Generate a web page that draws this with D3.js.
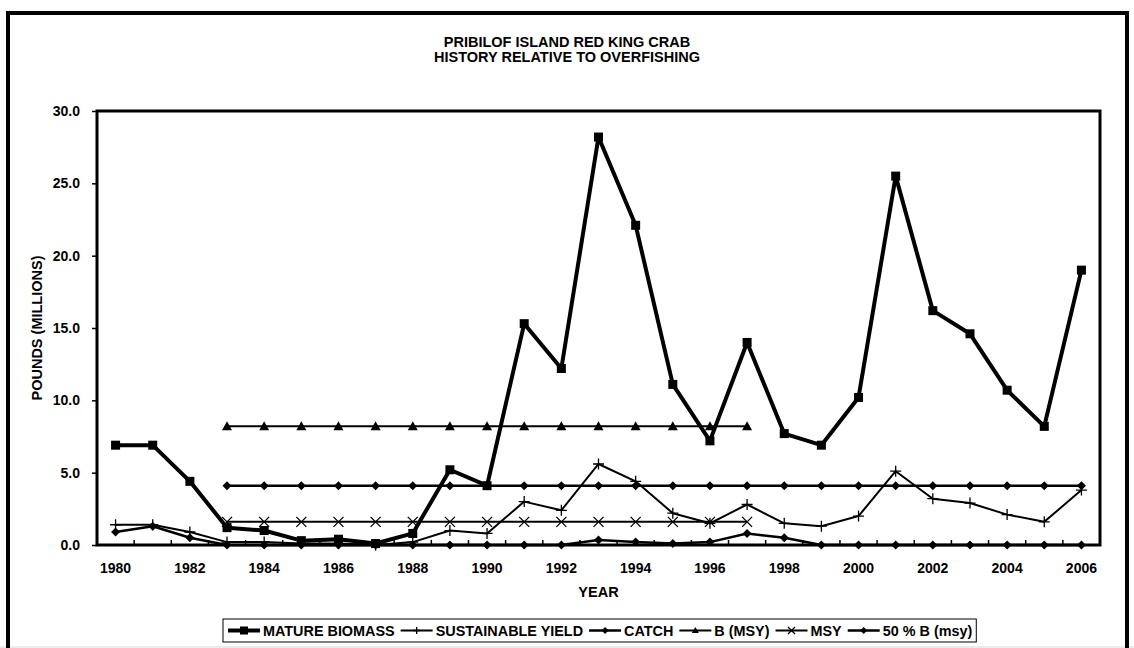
<!DOCTYPE html>
<html>
<head>
<meta charset="utf-8">
<script src="https://cdn.jsdelivr.net/npm/d3@7"></script>
<style>
  body { margin: 0; background: #fff; }
  text { font-family: Arial, "Liberation Sans", sans-serif; font-weight: bold; fill: #000; }
</style>
</head>
<body>
<div id="chart"></div>
<script>
// categories and series (millions of pounds)
const years = [1980, 1981, 1982, 1983, 1984, 1985, 1986, 1987, 1988, 1989, 1990, 1991, 1992, 1993,
    1994, 1995, 1996, 1997, 1998, 1999, 2000, 2001, 2002, 2003, 2004, 2005, 2006];
const yearLabels = [1980, 1982, 1984, 1986, 1988, 1990, 1992, 1994, 1996, 1998, 2000, 2002, 2004, 2006];
const yTicks = [0, 5, 10, 15, 20, 25, 30];

const matureBiomass = [6.9, 6.9, 4.4, 1.2, 1.0, 0.3, 0.4, 0.1, 0.8, 5.2, 4.1, 15.3, 12.2, 28.2,
    22.1, 11.1, 7.2, 14.0, 7.7, 6.9, 10.2, 25.5, 16.2, 14.6, 10.7, 8.2, 19.0];
const sustainableYield = [1.4, 1.4, 0.9, 0.2, 0.2, 0.1, 0.1, 0.0, 0.2, 1.0, 0.8, 3.0, 2.4, 5.6,
    4.4, 2.2, 1.5, 2.8, 1.5, 1.3, 2.0, 5.1, 3.2, 2.9, 2.1, 1.6, 3.8];
const catchLbs = [0.9, 1.3, 0.5, 0, 0, 0, 0, 0, 0, 0, 0, 0, 0, 0.35,
    0.2, 0.1, 0.2, 0.8, 0.5, 0, 0, 0, 0, 0, 0, 0, 0];
const bMsy = [null, null, null, 8.2, 8.2, 8.2, 8.2, 8.2, 8.2, 8.2, 8.2, 8.2, 8.2, 8.2,
    8.2, 8.2, 8.2, 8.2, null, null, null, null, null, null, null, null, null];
const msy = [null, null, null, 1.6, 1.6, 1.6, 1.6, 1.6, 1.6, 1.6, 1.6, 1.6, 1.6, 1.6,
    1.6, 1.6, 1.6, 1.6, null, null, null, null, null, null, null, null, null];
const halfBMsy = [null, null, null, 4.1, 4.1, 4.1, 4.1, 4.1, 4.1, 4.1, 4.1, 4.1, 4.1, 4.1,
    4.1, 4.1, 4.1, 4.1, 4.1, 4.1, 4.1, 4.1, 4.1, 4.1, 4.1, 4.1, 4.1];

const series = [
    { name: "MATURE BIOMASS", values: matureBiomass, marker: "square", width: 4 },
    { name: "SUSTAINABLE YIELD", values: sustainableYield, marker: "plus", width: 2 },
    { name: "CATCH", values: catchLbs, marker: "diamond", width: 2.5 },
    { name: "B (MSY)", values: bMsy, marker: "triangle", width: 2 },
    { name: "MSY", values: msy, marker: "cross", width: 2 },
    { name: "50 % B (msy)", values: halfBMsy, marker: "diamond", width: 2.5 }
];

const W = 1134, H = 648;
const margin = { left: 97, right: 1100, top: 111, bottom: 545 };

const svg = d3.select("#chart").append("svg")
    .attr("width", W)
    .attr("height", H);

svg.append("rect").attr("x", 0).attr("y", 646).attr("width", W).attr("height", 2).attr("fill", "#ececec");

// outer chart border
svg.append("rect")
    .attr("x", 8).attr("y", 13)
    .attr("width", 1119).attr("height", 700)
    .attr("fill", "none")
    .attr("stroke", "#000")
    .attr("stroke-width", 4);

const x = d3.scaleBand().domain(years).range([margin.left, margin.right]);
const y = d3.scaleLinear().domain([0, 30]).range([margin.bottom, margin.top]);
const cx = d => x(d) + x.bandwidth() / 2;

// title
const title = svg.append("text").attr("text-anchor", "middle").style("font-size", "14.5px");
title.append("tspan").attr("x", 567).attr("y", 47).text("PRIBILOF ISLAND RED KING CRAB");
title.append("tspan").attr("x", 567).attr("y", 62).text("HISTORY RELATIVE TO OVERFISHING");

// plot frame
svg.append("rect")
    .attr("x", margin.left).attr("y", margin.top)
    .attr("width", margin.right - margin.left)
    .attr("height", margin.bottom - margin.top)
    .attr("fill", "#fff")
    .attr("stroke", "#000")
    .attr("stroke-width", 3);

// y axis
const yAxis = svg.append("g")
    .attr("transform", `translate(${margin.left},0)`)
    .call(d3.axisLeft(y).tickValues(yTicks).tickFormat(d3.format(".1f")).tickSize(5).tickPadding(12));
yAxis.select(".domain").remove();
yAxis.selectAll("line").attr("stroke-width", 1.5);
yAxis.selectAll("text").style("font-size", "14px");

// x axis labels
const xAxis = svg.append("g")
    .attr("transform", `translate(0,${margin.bottom})`)
    .call(d3.axisBottom(x).tickValues(yearLabels).tickSize(0).tickPadding(18));
xAxis.select(".domain").remove();
xAxis.selectAll("text").style("font-size", "14px");

// x tick marks between categories, pointing into the plot
svg.append("g").selectAll("line")
    .data(years.slice(1))
    .join("line")
    .attr("x1", d => x(d)).attr("x2", d => x(d))
    .attr("y1", margin.bottom).attr("y2", margin.bottom - 5)
    .attr("stroke", "#000").attr("stroke-width", 1.5);

// axis titles
svg.append("text")
    .attr("transform", "translate(42,328) rotate(-90)")
    .attr("text-anchor", "middle")
    .style("font-size", "14.5px")
    .text("POUNDS (MILLIONS)");
svg.append("text")
    .attr("x", (margin.left + margin.right) / 2).attr("y", 597)
    .attr("text-anchor", "middle")
    .style("font-size", "14.5px")
    .text("YEAR");

// marker drawing
function drawMarker(g, type, px, py, s) {
    if (type === "square") {
        g.append("rect").attr("x", px - s / 2).attr("y", py - s / 2).attr("width", s).attr("height", s).attr("fill", "#000");
    } else if (type === "diamond") {
        g.append("path").attr("d", `M${px},${py - s / 2}L${px + s / 2},${py}L${px},${py + s / 2}L${px - s / 2},${py}Z`).attr("fill", "#000");
    } else if (type === "triangle") {
        g.append("path").attr("d", `M${px},${py - s / 2}L${px + s / 2},${py + s / 2 - 1}L${px - s / 2},${py + s / 2 - 1}Z`).attr("fill", "#000");
    } else if (type === "plus") {
        g.append("path").attr("d", `M${px - s / 2},${py}H${px + s / 2}M${px},${py - s / 2}V${py + s / 2}`)
            .attr("stroke", "#000").attr("stroke-width", 1.3).attr("fill", "none");
    } else if (type === "cross") {
        const h = s / 2;
        g.append("path").attr("d", `M${px - h},${py - h}L${px + h},${py + h}M${px - h},${py + h}L${px + h},${py - h}`)
            .attr("stroke", "#000").attr("stroke-width", 1.3).attr("fill", "none");
    }
}
const markerSize = { square: 9, diamond: 9, triangle: 10, plus: 11, cross: 10 };

const line = d3.line()
    .defined(d => d.v !== null)
    .x(d => cx(d.year))
    .y(d => y(d.v));

series.forEach(s => {
    const pts = years.map((yr, i) => ({ year: yr, v: s.values[i] }));
    const g = svg.append("g");
    g.append("path")
        .datum(pts)
        .attr("d", line)
        .attr("fill", "none")
        .attr("stroke", "#000")
        .attr("stroke-width", s.width)
        .attr("stroke-linejoin", "round");
    pts.filter(p => p.v !== null).forEach(p => drawMarker(g, s.marker, cx(p.year), y(p.v), markerSize[s.marker]));
});

// legend
const legend = svg.append("g");
const legBox = legend.append("rect")
    .attr("x", 223).attr("y", 619).attr("height", 23)
    .attr("fill", "#fff").attr("stroke", "#000").attr("stroke-width", 1);
let lx = 228;
const ly = 630.5;
series.forEach(s => {
    legend.append("line")
        .attr("x1", lx).attr("x2", lx + 32)
        .attr("y1", ly).attr("y2", ly)
        .attr("stroke", "#000").attr("stroke-width", s.width);
    drawMarker(legend, s.marker, lx + 16, ly, s.marker === "square" ? 8 : 7);
    const t = legend.append("text")
        .attr("x", lx + 35).attr("y", ly + 5)
        .style("font-size", "14.4px")
        .text(s.name);
    lx += 35 + t.node().getComputedTextLength() + 6;
});
legBox.attr("width", lx - 223 - 2);
</script>
</body>
</html>
